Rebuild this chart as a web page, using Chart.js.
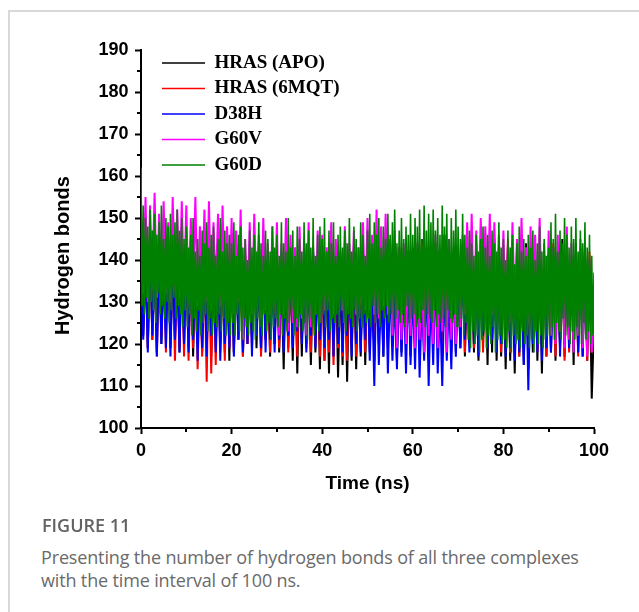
<!DOCTYPE html>
<html>
<head>
<meta charset="utf-8">
<script src="https://cdn.jsdelivr.net/npm/chart.js@4"></script>
<style>
  html, body { margin: 0; padding: 0; background: #fff; }
  body { width: 639px; height: 612px; position: relative; overflow: hidden; }
  .frame { position: absolute; left: 8px; top: 10px; width: 700px; height: 700px;
           border-left: 2px solid #d9d9d9; border-top: 2px solid #d9d9d9; }
  #wrap { position: absolute; left: 0; top: 0; width: 639px; height: 520px; }
  .fig { position: absolute; left: 42px; top: 516px; font-family: 'Open Sans', sans-serif;
         font-size: 18px; line-height: 18px; font-weight: 600; color: #626262; }
  .cap { position: absolute; left: 41px; top: 546px; font-family: 'Open Sans', sans-serif;
         font-size: 18px; line-height: 23px; letter-spacing: -0.15px; color: #6a6a6a; }
</style>
</head>
<body>
<div class="frame"></div>
<div id="wrap"><canvas id="hbChart" width="639" height="520"></canvas></div>
<div class="fig">FIGURE 11</div>
<div class="cap">Presenting the number of hydrogen bonds of all three complexes<br>with the time interval of 100 ns.</div>
<script>
// hydrogen bonds over 0 - 100 ns, evenly spaced samples (0.5 ns; G60D every 0.25 ns)
var hrasApo = [
  144,122,140,119,146,121,142,118,147,120,141,123,145,119,140,121,143,118,146,120,
  141,119,145,117,139,120,143,118,138,121,144,117,140,119,142,120,139,118,145,116,
  146,118,144,121,145,117,141,120,139,122,143,119,140,118,142,121,138,117,141,120,
  140,118,137,114,142,119,138,116,141,113,139,117,143,120,137,115,140,118,138,114,
  142,116,139,113,144,117,140,112,137,115,141,111,138,116,143,114,139,117,141,115,
  140,118,144,116,139,120,142,117,145,119,138,121,141,116,143,118,139,120,142,117,
  143,119,139,121,145,118,141,120,138,122,144,119,140,117,146,120,139,121,142,118,
  141,119,144,117,139,121,142,118,138,116,143,120,140,115,141,118,145,116,139,117,
  140,114,143,116,138,113,141,117,139,115,144,114,137,118,142,116,139,113,141,117,
  139,118,143,116,140,119,145,117,138,120,141,115,144,118,139,117,142,116,140,107,125
];
var hras6mqt = [
  146,124,142,119,147,121,140,117,145,122,141,118,144,120,139,116,143,119,140,117,
  142,116,138,119,141,114,137,117,140,111,143,113,138,115,141,118,137,116,140,119,
  139,118,142,121,137,117,141,120,136,119,143,122,138,117,140,121,137,118,142,120,
  141,119,137,122,143,118,139,120,136,117,142,121,138,119,144,118,137,120,140,117,
  138,116,142,118,137,115,141,119,139,117,144,116,138,120,141,117,137,119,143,118,
  140,120,144,118,138,122,142,119,145,121,139,123,141,118,137,120,143,122,140,119,
  142,121,138,119,144,122,140,118,143,120,137,123,141,119,145,121,139,118,142,120,
  139,120,143,118,137,121,141,119,144,122,138,118,142,120,137,121,140,119,143,118,
  141,120,145,118,139,121,143,117,146,122,140,119,142,121,138,118,144,120,141,117,
  140,119,144,117,138,120,142,116,145,118,139,121,141,117,143,119,138,116,142,118,124
];
var d38h = [
  135,121,141,118,144,122,139,117,142,120,138,119,143,117,140,121,137,118,141,120,
  139,118,142,121,136,116,141,119,138,117,143,122,137,118,140,116,142,120,136,119,
  140,117,137,121,142,118,135,120,139,117,141,122,136,119,142,118,138,121,134,118,
  139,121,142,118,136,122,140,119,137,123,141,120,135,118,139,122,142,119,137,121,
  141,119,137,121,139,117,142,120,136,118,140,122,138,117,141,120,135,118,139,121,
  137,116,134,110,139,115,133,117,138,113,136,116,132,114,138,117,135,113,137,115,
  134,114,137,112,131,116,136,110,133,115,138,113,130,110,135,116,132,114,137,117,
  136,119,139,121,133,118,138,120,135,117,140,122,134,119,137,121,132,118,139,120,
  138,117,135,119,140,116,136,118,133,115,139,109,136,120,134,118,141,116,137,119,
  140,118,136,121,142,117,137,120,139,119,135,122,141,118,138,117,142,120,136,119,127
];
var g60v = [
  150,132,155,130,153,134,156,131,151,133,154,132,149,130,155,133,152,131,154,132,
  153,130,150,133,155,129,148,132,152,130,154,128,149,133,151,129,153,131,148,130,
  150,127,147,130,152,121,145,129,149,127,151,131,146,126,150,128,144,127,148,129,
  149,122,144,127,150,123,146,125,143,124,148,126,145,122,149,124,143,127,147,125,
  146,128,143,130,149,127,145,131,142,128,148,129,144,130,147,127,143,131,149,128,
  150,128,146,127,152,126,148,129,151,127,145,122,147,119,143,121,144,120,142,122,
  140,119,144,121,138,118,143,122,141,120,146,119,139,123,142,118,145,121,140,120,
  143,124,146,127,149,129,151,126,147,130,150,128,148,131,151,127,149,129,146,128,
  147,127,144,125,149,128,145,126,150,129,143,125,148,127,146,128,150,126,144,127,
  147,122,143,120,146,123,141,119,148,121,144,118,142,122,145,119,143,117,140,118,128
];
var g60d = [
  162,129,153,127,150,131,148,126,152,130,147,128,151,125,146,132,149,127,153,129,
  145,126,150,130,148,125,151,128,146,131,149,126,152,129,147,127,150,124,145,128,
  148,124,143,127,146,122,150,126,142,123,145,128,141,122,147,125,144,127,149,123,
  143,126,146,122,148,125,141,124,145,127,150,123,142,126,147,122,144,125,146,122,
  144,125,149,122,141,127,146,123,148,121,143,126,145,124,140,122,147,125,143,123,
  146,121,142,126,149,124,144,122,141,127,147,123,145,125,142,121,148,124,143,126,
  146,124,141,127,149,122,144,126,142,123,150,125,143,128,147,122,141,126,148,124,
  145,127,142,123,149,125,144,121,147,126,143,124,150,122,141,127,146,123,148,125,
  145,127,150,124,142,128,147,123,144,126,149,125,141,127,146,124,148,128,143,125,
  147,123,144,127,150,126,142,124,148,128,145,123,143,126,149,124,146,127,141,125,
  147,126,151,124,144,129,149,125,146,127,150,124,143,128,148,126,145,129,151,125,
  146,127,149,124,152,126,144,128,147,125,150,127,145,124,148,129,146,125,151,126,
  146,127,150,124,148,126,152,125,145,128,153,124,147,127,151,126,149,125,152,128,
  147,124,150,127,146,125,153,126,148,124,151,128,145,126,150,125,147,127,152,124,
  148,124,145,126,151,122,146,125,143,121,147,119,144,123,141,120,146,122,142,118,
  145,121,148,123,143,119,146,122,141,120,147,124,144,118,142,121,149,122,143,120,
  145,121,140,119,147,123,143,118,146,122,139,120,144,121,148,119,142,123,145,120,
  141,122,146,119,143,121,147,118,140,123,144,120,148,122,142,119,145,121,141,122,
  143,122,149,124,145,121,151,125,142,123,147,121,144,126,150,122,146,124,143,120,
  148,123,145,121,150,124,142,122,147,120,144,125,149,121,143,123,146,120,141,122,137
];

var timeMax = 100;
var seriesNames = ['HRAS (APO)', 'HRAS (6MQT)', 'D38H', 'G60V', 'G60D'];
var seriesColors = ['#000000', '#ff0000', '#0000ff', '#ff00ff', '#008000'];
var seriesValues = [hrasApo, hras6mqt, d38h, g60v, g60d];

var yMinorTicks = [105, 115, 125, 135, 145, 155, 165, 175, 185];
var xMinorTicks = [10, 30, 50, 70, 90];

// samples are evenly spaced over 0..100 ns
function toPoints(vals) {
  var step = timeMax / (vals.length - 1);
  return vals.map(function (v, i) { return { x: i * step, y: v }; });
}

var datasets = seriesNames.map(function (name, k) {
  return {
    label: name,
    data: toPoints(seriesValues[k]),
    borderColor: seriesColors[k],
    backgroundColor: seriesColors[k],
    borderWidth: k === 4 ? 1.6 : 2,
    pointRadius: 0,
    tension: 0,
    order: seriesNames.length - k   // last series (G60D) on top
  };
});

var tickFont = { family: 'Liberation Sans', weight: 'bold', size: 18 };

var minorTicks = {
  id: 'minorTicks',
  afterLayout: function (chart) {
    // legend sits in the upper-left corner of the plot
    var lg = chart.legend;
    lg.left = chart.chartArea.left + 14.5;
    lg.top = chart.chartArea.top - 3;
  },
  afterDraw: function (chart) {
    var ctx = chart.ctx, xs = chart.scales.x, ys = chart.scales.y;
    ctx.save();
    ctx.strokeStyle = '#000';
    ctx.lineWidth = 2;
    ctx.beginPath();
    yMinorTicks.forEach(function (v) {
      var p = Math.round(ys.getPixelForValue(v));
      ctx.moveTo(ys.right - 4, p);
      ctx.lineTo(ys.right, p);
    });
    xMinorTicks.forEach(function (v) {
      var p = Math.round(xs.getPixelForValue(v));
      ctx.moveTo(p, xs.top);
      ctx.lineTo(p, xs.top + 4);
    });
    ctx.stroke();
    ctx.restore();
  }
};

new Chart(document.getElementById('hbChart').getContext('2d'), {
  type: 'line',
  data: { datasets: datasets },
  options: {
    responsive: false,
    animation: false,
    layout: { padding: { top: 50, right: 45, left: 0, bottom: 0 } },
    plugins: {
      legend: {
        position: 'chartArea',
        align: 'start',
        labels: {
          usePointStyle: true,
          pointStyle: 'line',
          pointStyleWidth: 43,
          padding: 6.5,
          color: '#000',
          font: { family: 'Liberation Serif', weight: 'bold', size: 19 },
          sort: function (a, b) { return a.datasetIndex - b.datasetIndex; },
          generateLabels: function (chart) {
            var items = Chart.defaults.plugins.legend.labels.generateLabels(chart);
            items.forEach(function (it) { it.lineWidth = 1.5; });
            return items;
          }
        }
      },
      tooltip: { enabled: false }
    },
    scales: {
      x: {
        type: 'linear',
        min: 0,
        max: timeMax,
        ticks: { stepSize: 20, color: '#000', font: tickFont, padding: 6.5, maxRotation: 0 },
        grid: { drawOnChartArea: false, drawTicks: true, tickLength: 6, tickWidth: 2, tickColor: '#000' },
        border: { display: true, color: '#000', width: 2 },
        title: {
          display: true, text: 'Time (ns)', color: '#000',
          font: { family: 'Liberation Sans', weight: 'bold', size: 19 },
          padding: { top: 0, bottom: 25 }
        },
        afterFit: function (s) { s.height = 92; }
      },
      y: {
        min: 100,
        max: 190,
        ticks: { stepSize: 10, color: '#000', font: tickFont, padding: 6.5 },
        grid: { drawOnChartArea: false, drawTicks: true, tickLength: 6, tickWidth: 2, tickColor: '#000' },
        border: { display: true, color: '#000', width: 2 },
        title: {
          display: true, text: 'Hydrogen bonds      ', color: '#000',
          font: { family: 'Liberation Sans', weight: 'bold', size: 20 },
          padding: { top: 51, bottom: 0 }
        },
        afterFit: function (s) { s.width = 141; }
      }
    }
  },
  plugins: [minorTicks]
});
</script>
</body>
</html>
